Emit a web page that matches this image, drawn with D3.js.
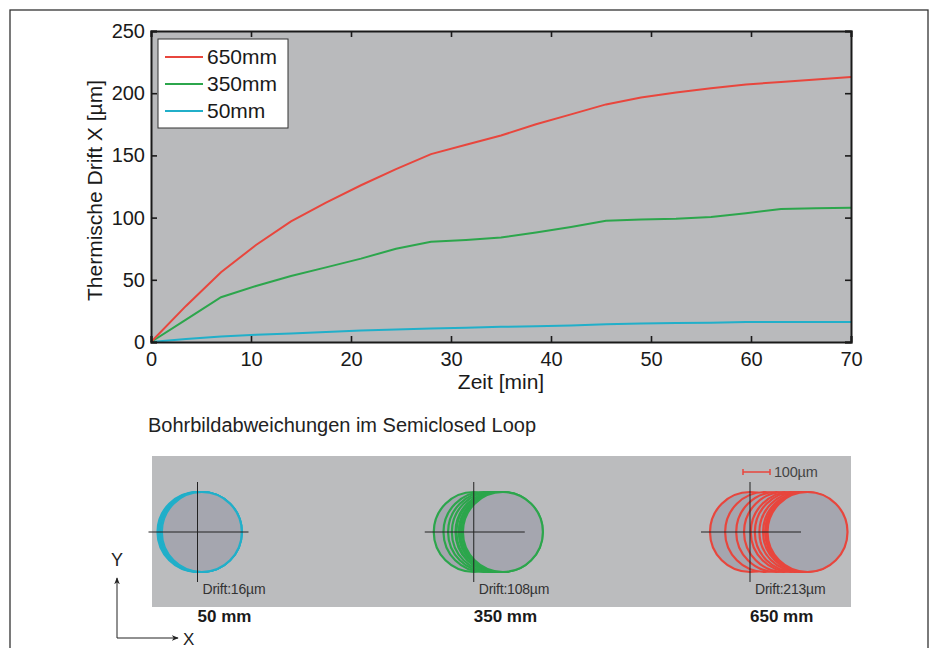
<!DOCTYPE html>
<html>
<head>
<meta charset="utf-8">
<script src="https://cdn.jsdelivr.net/npm/d3@7/dist/d3.min.js"></script>
<style>
  html, body { margin: 0; padding: 0; background: #fff; }
  svg { display: block; font-family: "Liberation Sans", Arial, Helvetica, sans-serif; }
</style>
</head>
<body>
<svg id="chart" width="937" height="648"></svg>
<script>
// ---- data ----
const times = [0, 3.5, 7, 10.5, 14, 17.5, 21, 24.5, 28, 31.5, 35, 38.5, 42, 45.5, 49, 52.5, 56, 59.5, 63, 66.5, 70];
const drift650 = [0, 29, 56, 78, 97, 112, 126, 139, 151, 158.5, 166, 175, 183, 191, 196.5, 200.5, 204, 207, 209, 211, 213];
const drift350 = [0, 18, 36, 45, 53, 60, 67, 75, 80.5, 82, 84, 88, 92.5, 97.5, 98.5, 99, 100.5, 103.5, 107, 107.5, 108];
const drift50  = [0, 2.5, 4.5, 5.8, 6.8, 8, 9.2, 10, 10.8, 11.4, 12.2, 12.7, 13.3, 14.2, 14.8, 15.2, 15.5, 16, 16, 16, 16];
const seriesNames = ["650mm", "350mm", "50mm"];
const holeLabels = ["50 mm", "350 mm", "650 mm"];
const xTicks = [0, 10, 20, 30, 40, 50, 60, 70];
const yTicks = [0, 50, 100, 150, 200, 250];
const scaleBarValue = 100; // µm

const colors = { "650mm": "#e8463d", "350mm": "#2ca64c", "50mm": "#21afc9" };
const seriesData = { "650mm": drift650, "350mm": drift350, "50mm": drift50 };

const svg = d3.select("#chart");
const font = '"Liberation Sans", Arial, Helvetica, sans-serif';

// outer frame
svg.append("rect").attr("x", 10).attr("y", 10).attr("width", 918).attr("height", 650)
  .attr("fill", "#fff").attr("stroke", "#333").attr("stroke-width", 1.3);

// ---- top chart ----
const x = d3.scaleLinear().domain([0, 70]).range([151, 851]);
const y = d3.scaleLinear().domain([0, 250]).range([342, 31]);

svg.append("rect").attr("x", x(0)).attr("y", y(250))
  .attr("width", x(70) - x(0)).attr("height", y(0) - y(250))
  .attr("fill", "#b9babc");

const line = d3.line().x((d, i) => x(times[i])).y(d => y(d));
seriesNames.slice().reverse().forEach(name => {
  svg.append("path").datum(seriesData[name])
    .attr("d", line).attr("fill", "none")
    .attr("stroke", colors[name]).attr("stroke-width", 2);
});

// axes (ticks inside, on all sides)
const tickLen = 6;
const axG = svg.append("g");
const xb = axG.append("g").attr("transform", `translate(0,${y(0)})`)
  .call(d3.axisBottom(x).tickValues(xTicks).tickSize(-tickLen).tickPadding(10).tickFormat(d3.format("d")));
const xt = axG.append("g").attr("transform", `translate(0,${y(250)})`)
  .call(d3.axisTop(x).tickValues(xTicks).tickSize(-tickLen).tickFormat(""));
const yl = axG.append("g").attr("transform", `translate(${x(0)},0)`)
  .call(d3.axisLeft(y).tickValues(yTicks).tickSize(-tickLen).tickPadding(6).tickFormat(d3.format("d")));
const yr = axG.append("g").attr("transform", `translate(${x(70)},0)`)
  .call(d3.axisRight(y).tickValues(yTicks).tickSize(-tickLen).tickFormat(""));
[xb, xt, yl, yr].forEach(g => {
  g.selectAll(".domain").attr("stroke", "#1a1a1a").attr("stroke-width", 2);
  g.selectAll(".tick line").attr("stroke", "#1a1a1a").attr("stroke-width", 1.6);
  g.selectAll("text").attr("font-family", font).attr("font-size", 20).attr("fill", "#1a1a1a");
});

// axis titles
svg.append("text").attr("x", x(35)).attr("y", 389).attr("text-anchor", "middle")
  .attr("font-size", 21).attr("fill", "#1a1a1a").text("Zeit [min]");
svg.append("text").attr("transform", `translate(102,${(y(0) + y(250)) / 2 + 4}) rotate(-90)`)
  .attr("text-anchor", "middle").attr("font-size", 21).attr("fill", "#1a1a1a")
  .text("Thermische Drift X [µm]");

// legend
const lg = svg.append("g").attr("transform", "translate(158,39)");
lg.append("rect").attr("width", 130).attr("height", 89).attr("fill", "#fff")
  .attr("stroke", "#333").attr("stroke-width", 1);
seriesNames.forEach((name, i) => {
  const yy = 18 + i * 27;
  lg.append("line").attr("x1", 7).attr("x2", 45).attr("y1", yy).attr("y2", yy)
    .attr("stroke", colors[name]).attr("stroke-width", 2);
  lg.append("text").attr("x", 49).attr("y", yy + 7).attr("font-size", 21)
    .attr("fill", "#1a1a1a").text(name);
});

// ---- bottom panel ----
svg.append("text").attr("x", 148).attr("y", 432).attr("font-size", 20).attr("fill", "#222")
  .text("Bohrbildabweichungen im Semiclosed Loop");

svg.append("rect").attr("x", 152).attr("y", 456).attr("width", 699).attr("height", 151)
  .attr("fill", "#bbbcbe");

const um = d3.scaleLinear().domain([0, 100]).range([0, 27]);
const holeX = d3.scalePoint().domain(holeLabels).range([197.5, 750]);
const holeY = 532;
const radius = 40;
const holeSeries = ["50mm", "350mm", "650mm"];

holeSeries.forEach((name, k) => {
  const cx = holeX(holeLabels[k]);
  const vals = seriesData[name].filter((d, i) => i % 2 === 0);
  const g = svg.append("g");
  g.selectAll("circle").data(vals).enter().append("circle")
    .attr("cx", d => cx + um(d)).attr("cy", holeY).attr("r", radius)
    .attr("fill", "#a5a6af").attr("stroke", colors[name]).attr("stroke-width", 2.2);
  // crosshair
  g.append("line").attr("x1", cx - 49).attr("x2", cx + 51).attr("y1", holeY).attr("y2", holeY)
    .attr("stroke", "#222").attr("stroke-width", 1);
  g.append("line").attr("x1", cx).attr("x2", cx).attr("y1", holeY - 50).attr("y2", holeY + 50)
    .attr("stroke", "#222").attr("stroke-width", 1);
  const last = seriesData[name][seriesData[name].length - 1];
  g.append("text").attr("x", cx + 5).attr("y", 594).attr("font-size", 14)
    .attr("fill", "#333").attr("letter-spacing", -0.2).text("Drift:" + last + "µm");
  svg.append("text").attr("x", cx).attr("y", 622).attr("font-size", 17)
    .attr("font-weight", "bold").attr("fill", "#1a1a1a").text(holeLabels[k]);
});

// scale bar
const sbx = holeX("650 mm") - 7, sby = 472;
svg.append("line").attr("x1", sbx).attr("x2", sbx + um(scaleBarValue)).attr("y1", sby).attr("y2", sby)
  .attr("stroke", colors["650mm"]).attr("stroke-width", 1.5);
[sbx, sbx + um(scaleBarValue)].forEach(px => {
  svg.append("line").attr("x1", px).attr("x2", px).attr("y1", sby - 3).attr("y2", sby + 3)
    .attr("stroke", colors["650mm"]).attr("stroke-width", 1.5);
});
svg.append("text").attr("x", sbx + um(scaleBarValue) + 4).attr("y", sby + 5)
  .attr("font-size", 14.5).attr("fill", "#444").attr("letter-spacing", -0.2).text(scaleBarValue + "µm");

// XY orientation arrows
const ax0 = 117, ay0 = 638;
svg.append("defs").append("marker").attr("id", "arr").attr("viewBox", "0 0 10 10")
  .attr("refX", 9).attr("refY", 5).attr("markerWidth", 7).attr("markerHeight", 7)
  .attr("orient", "auto-start-reverse")
  .append("path").attr("d", "M0,1 L10,5 L0,9 L3,5 Z").attr("fill", "#222");
svg.append("line").attr("x1", ax0).attr("y1", ay0).attr("x2", ax0).attr("y2", 578)
  .attr("stroke", "#222").attr("stroke-width", 1).attr("marker-end", "url(#arr)");
svg.append("line").attr("x1", ax0).attr("y1", ay0).attr("x2", 178).attr("y2", ay0)
  .attr("stroke", "#222").attr("stroke-width", 1).attr("marker-end", "url(#arr)");
svg.append("text").attr("x", ax0).attr("y", 566).attr("text-anchor", "middle")
  .attr("font-size", 18).attr("fill", "#222").text("Y");
svg.append("text").attr("x", 183).attr("y", 645).attr("font-size", 17).attr("fill", "#222").text("X");
</script>
</body>
</html>
